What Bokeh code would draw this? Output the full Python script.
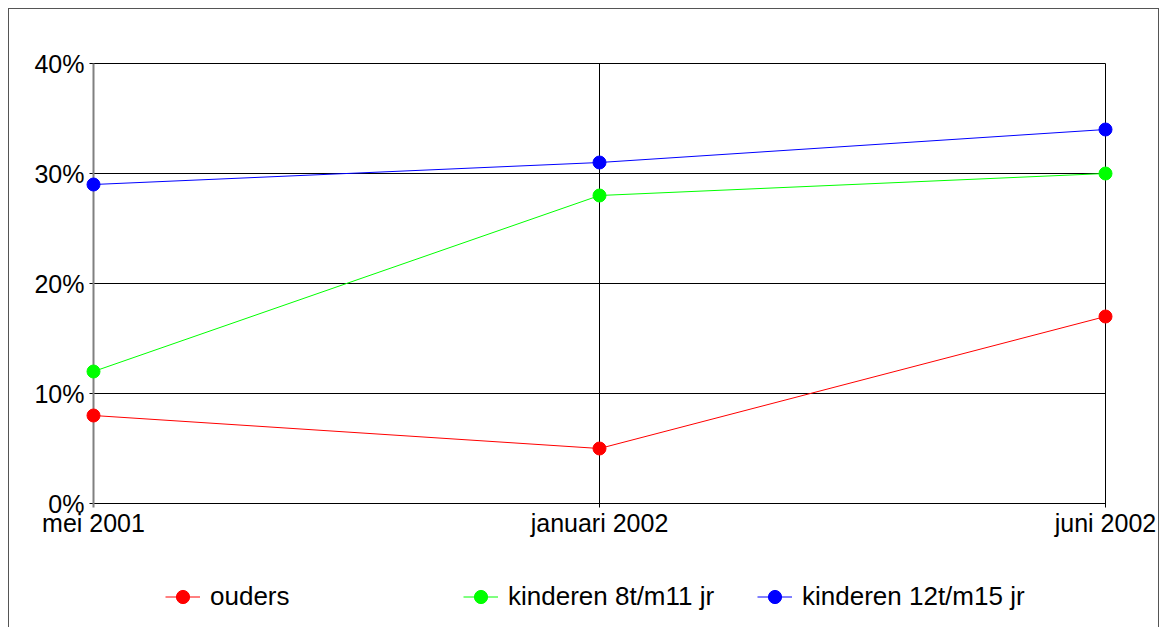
from bokeh.plotting import figure
from bokeh.models import Range1d, Legend, LegendItem
from bokeh.core.properties import value
from bokeh.embed import file_html
from bokeh.resources import INLINE

categories = ["mei 2001", "januari 2002", "juni 2002"]
ouders = [8, 5, 17]
kinderen_8_11 = [12, 28, 30]
kinderen_12_15 = [29, 31, 34]
series_names = ["ouders", "kinderen 8t/m11 jr", "kinderen 12t/m15 jr"]
series_colors = ["#ff0000", "#00ff00", "#0000ff"]
y_ticks = [0, 10, 20, 30, 40]
y_tick_labels = ["0%", "10%", "20%", "30%", "40%"]

FONT = "Liberation Sans"
xs = list(range(len(categories)))

# pixel scale of the plotting area
PX_X = 506.0   # pixels per category step
PX_Y = 11.0    # pixels per percent
W, H = 1151, 619

p = figure(width=W, height=H, output_backend="svg", toolbar_location=None,
           x_range=Range1d(-84 / PX_X, xs[-1] + 55 / PX_X),
           y_range=Range1d(-125 / PX_Y, y_ticks[-1] + 54 / PX_Y),
           min_border=0, x_axis_location=None, y_axis_location=None)
p.styles = {"border-left": "1px solid #555555", "border-top": "1px solid #555555",
            "border-right": "1px solid #555555", "margin-left": "8px", "margin-top": "8px"}
p.outline_line_color = None
p.background_fill_color = "white"
p.border_fill_color = "white"
p.xgrid.grid_line_color = None
p.ygrid.grid_line_color = None

tick_len_x = 4 / PX_X
tick_len_y = 4 / PX_Y

# horizontal grid lines + left ticks
p.segment(x0=[-tick_len_x] * len(y_ticks), x1=[xs[-1]] * len(y_ticks), y0=y_ticks, y1=y_ticks,
          line_color="black", line_width=1)
# vertical grid lines + bottom ticks
p.segment(x0=xs[1:], x1=xs[1:], y0=[-tick_len_y] * (len(xs) - 1), y1=[y_ticks[-1]] * (len(xs) - 1),
          line_color="black", line_width=1)
# y axis line
p.segment(x0=[xs[0]], x1=[xs[0]], y0=[-tick_len_y], y1=[y_ticks[-1]],
          line_color="#808080", line_width=2)

# tick labels
p.text(x=[xs[0]] * len(y_ticks), y=y_ticks, text=y_tick_labels,
       text_font=value(FONT), text_font_size="25px", text_color="black",
       text_align="right", text_baseline="middle", x_offset=-9)
p.text(x=xs, y=[0] * len(xs), text=categories,
       text_font=value(FONT), text_font_size="25px", text_color="black",
       text_align="center", text_baseline="top", y_offset=5)

renderers = []
for vals, color in zip([ouders, kinderen_8_11, kinderen_12_15], series_colors):
    lr = p.line(xs, vals, line_color=color, line_width=1)
    renderers.append(lr)
markers = []
for vals, color in zip([ouders, kinderen_8_11, kinderen_12_15], series_colors):
    sr = p.scatter(xs, vals, size=13, fill_color=color, line_color=color)
    markers.append(sr)

legend_x = [156, 454, 748]
for lr, sr, name, lx in zip(renderers, markers, series_names, legend_x):
    lg = Legend(items=[LegendItem(label=name, renderers=[lr, sr])],
                location=(lx, 15), orientation="horizontal",
                border_line_color=None, background_fill_alpha=0,
                padding=0, margin=0, glyph_width=35, glyph_height=33,
                label_standoff=10, label_text_font=FONT, label_text_font_size="26px",
                label_text_color="black", label_height=20)
    p.add_layout(lg)

open("out.html", "w").write(file_html(p, INLINE))
